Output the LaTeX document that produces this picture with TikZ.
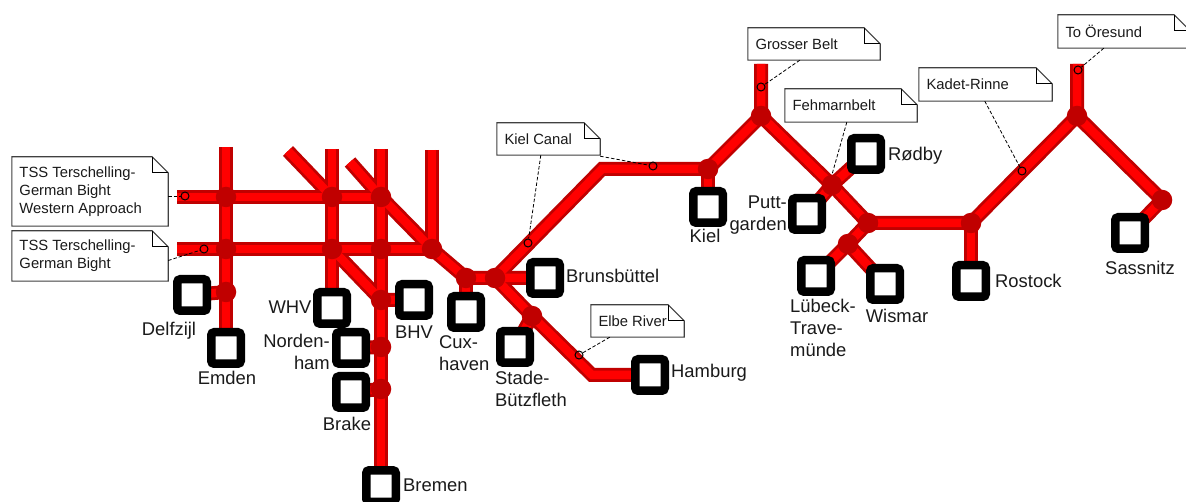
\documentclass[tikz,border=0pt]{standalone}
\usepackage{fontspec}
\setmainfont{Liberation Sans}
\pgfdeclarelayer{tracks}
\pgfsetlayers{tracks,main}
\definecolor{trackdark}{HTML}{C00000}
\definecolor{trackred}{HTML}{FF0000}
\definecolor{inktext}{HTML}{1A1A1A}
\tikzset{
  junction/.style={circle,fill=trackdark,draw=none,minimum size=20.5pt,inner sep=0pt},
  station/.style={rectangle,rounded corners=3pt,draw=black,line width=8.5pt,fill=white,minimum width=29.5pt,minimum height=31.5pt,inner sep=0pt},
  place/.style={font=\fontsize{18.4}{22}\selectfont,text=inktext,inner sep=0pt},
  notebase/.style={rectangle,inner xsep=7.5pt,inner ysep=0pt,align=left,font=\fontsize{14.8}{18}\selectfont,text=inktext},
  noteline/.style={draw=black!75,line width=1.1pt,fill=white,line join=miter},
  notefold/.style={draw=black,line width=1.4pt},
  leader/.style={draw=black,line width=0.8pt,dash pattern=on 3.5pt off 2pt},
  probe/.style={circle,draw=black,line width=1pt,fill=none,minimum size=8pt,inner sep=0pt},
  trackouter/.style={draw=trackdark,line width=14pt},
  trackinner/.style={draw=trackred,line width=8.5pt}
}
\newcommand{\notebox}[5]{%
  \node[notebase,minimum width=#3pt,minimum height=#4pt,text width=\dimexpr #3pt-16pt\relax] (#1) at (#2) {\vphantom{}};
  \draw[noteline] (#1.north west) -- ([xshift=-16pt]#1.north east) -- ([yshift=-16pt]#1.north east) -- (#1.south east) -- (#1.south west) -- cycle;
  \draw[notefold] ([xshift=-16pt]#1.north east) -- ([xshift=-16pt,yshift=-16pt]#1.north east) -- ([yshift=-16pt]#1.north east);
  \node[notebase,anchor=west] (#1text) at (#1.west) {#5};
}
\newcommand{\drawtracks}[1]{%
  \begin{scope}[every path/.style={#1}]
    \draw (eWtop) -- (j226a.center) -- (j332a.center) -- (j381a.center);
    \draw (eWbot) -- (j226b.center) -- (j332b.center) -- (j381b.center) -- (j432.center);
    \draw (eN226) -- (j226a.center) -- (j226b.center) -- (jDelf.center) -- (emden.center);
    \draw (jDelf.center) -- (delfzijl.center);
    \draw (eN332) -- (j332a.center) -- (j332b.center) -- (whv.center);
    \draw (eN381) -- (j381a.center) -- (j381b.center) -- (jBhv.center) -- (jNord.center) -- (jBrake.center) -- (bremen.center);
    \draw (eN432) -- (j432.center);
    \draw (eD1) -- (j332a.center);
    \draw (eD2) -- (j381a.center) -- (j432.center) -- (jCux.center) -- (jBrun.center) -- (brunsbuettel.center);
    \draw (jCux.center) -- (cuxhaven.center);
    \draw (j332b.center) -- (jBhv.center) -- (bhv.center);
    \draw (jNord.center) -- (nordenham.center);
    \draw (jBrake.center) -- (brake.center);
    \draw (jBrun.center) -- (jStade.center) -- (bendElbe) -- (hamburg.center);
    \draw (jStade.center) -- (stade.center);
    \draw (jBrun.center) -- (bendKiel) -- (jKiel.center) -- (jBelt.center) -- (eBelt);
    \draw (jKiel.center) -- (kiel.center);
    \draw (jBelt.center) -- (jFehm.center) -- (jEast.center) -- (jRost.center) -- (jOre.center) -- (eOre);
    \draw (roedby.center) -- (jFehm.center) -- (puttgarden.center);
    \draw (jEast.center) -- (jLub.center) -- (luebeck.center);
    \draw (jLub.center) -- (wismar.center);
    \draw (jRost.center) -- (rostock.center);
    \draw (jOre.center) -- (jSass.center) -- (sassnitz.center);
  \end{scope}
}
\begin{document}
\begin{tikzpicture}[x=1pt,y=-1pt]
\clip (0,0) rectangle (1186,502);
% free ends and bends
\coordinate (eWtop) at (177,197);
\coordinate (eWbot) at (177,249);
\coordinate (eN226) at (226,147);
\coordinate (eN332) at (332,149);
\coordinate (eN381) at (381,149);
\coordinate (eN432) at (432,150);
\coordinate (eD1) at (288,151);
\coordinate (eD2) at (350,162);
\coordinate (bendElbe) at (592,375);
\coordinate (bendKiel) at (602,169);
\coordinate (eBelt) at (761,64);
\coordinate (eOre) at (1077,64);
% junctions
\node[junction] (j226a) at (226,197) {};
\node[junction] (j332a) at (332,197) {};
\node[junction] (j381a) at (381,197) {};
\node[junction] (j226b) at (226,249) {};
\node[junction] (j332b) at (332,249) {};
\node[junction] (j381b) at (381,249) {};
\node[junction] (j432) at (432,249) {};
\node[junction] (jDelf) at (226,292) {};
\node[junction] (jBhv) at (381,300) {};
\node[junction] (jNord) at (381,347) {};
\node[junction] (jBrake) at (381,389) {};
\node[junction] (jCux) at (466,278) {};
\node[junction] (jBrun) at (495,278) {};
\node[junction] (jStade) at (532,316) {};
\node[junction] (jKiel) at (708,169) {};
\node[junction] (jBelt) at (761,116) {};
\node[junction] (jFehm) at (832,185) {};
\node[junction] (jEast) at (868,223) {};
\node[junction] (jRost) at (971,223) {};
\node[junction] (jLub) at (848,244) {};
\node[junction] (jOre) at (1077,116) {};
\node[junction] (jSass) at (1162,200) {};
% stations
\node[station] (delfzijl) at (192,295) {};
\node[station] (emden) at (226,348) {};
\node[station] (whv) at (332,308) {};
\node[station] (bhv) at (414,300) {};
\node[station] (nordenham) at (351,348) {};
\node[station] (brake) at (351,392) {};
\node[station] (bremen) at (381,486) {};
\node[station] (cuxhaven) at (466,312) {};
\node[station] (brunsbuettel) at (545,278) {};
\node[station] (stade) at (515,347) {};
\node[station] (hamburg) at (650,375) {};
\node[station] (kiel) at (708,207) {};
\node[station] (roedby) at (866,154) {};
\node[station] (puttgarden) at (807,214) {};
\node[station] (luebeck) at (816,276) {};
\node[station] (wismar) at (885,284) {};
\node[station] (rostock) at (971,281) {};
\node[station] (sassnitz) at (1130,233) {};
% tracks beneath everything
\begin{pgfonlayer}{tracks}
\fill[white] (0,0) rectangle (1186,502);
\drawtracks{trackouter}
\drawtracks{trackinner}
\end{pgfonlayer}
% place names
\node[place,anchor=center] (lDelf) at (169,331) {Delfzijl};
\node[place,anchor=center] (lEmden) at (227,378) {Emden};
\node[place,anchor=center] (lWhv) at (290,307) {WHV};
\node[place,anchor=center] (lBhv) at (414,332) {BHV};
\node[place,anchor=east,align=right] (lNord) at (330,352) {Norden-\\ham};
\node[place,anchor=center] (lBrake) at (347,424) {Brake};
\node[place,anchor=west] (lBrem) at (403,485) {Bremen};
\node[place,anchor=west,align=left] (lCux) at (439,353) {Cux-\\haven};
\node[place,anchor=west] (lBrun) at (566,276) {Brunsbüttel};
\node[place,anchor=west,align=left] (lStade) at (495,389) {Stade-\\Bützfleth};
\node[place,anchor=west] (lHam) at (671,373) {Hamburg};
\node[place,anchor=center] (lKiel) at (705,236) {Kiel};
\node[place,anchor=west] (lRoed) at (888,156) {Rødby};
\node[place,anchor=east,align=right] (lPutt) at (787,215) {Putt-\\garden};
\node[place,anchor=west,align=left] (lLueb) at (790,328) {Lübeck-\\Trave-\\münde};
\node[place,anchor=center] (lWis) at (897,316) {Wismar};
\node[place,anchor=west] (lRost) at (995,281) {Rostock};
\node[place,anchor=center] (lSass) at (1140,268) {Sassnitz};
% notes
\notebox{nTssW}{90,191.5}{156}{69}{TSS Terschelling-\\German Bight\\Western Approach}
\notebox{nTss}{90,256}{156}{50}{TSS Terschelling-\\German Bight}
\notebox{nKiel}{548.5,139}{103}{32}{Kiel Canal}
\notebox{nBelt}{814,44}{132}{32}{Grosser Belt}
\notebox{nFehm}{851,105.5}{132}{33}{Fehmarnbelt}
\notebox{nKadet}{985.5,84.5}{133}{33}{Kadet-Rinne}
\notebox{nElbe}{637.5,321}{93}{32}{Elbe River}
\notebox{nOre}{1124,31.5}{132}{33}{To Öresund}
% probes
\node[probe] (pTssW) at (185,196) {};
\node[probe] (pTss) at (204,249) {};
\node[probe] (pKielA) at (653,166) {};
\node[probe] (pKielB) at (528,243) {};
\node[probe] (pBelt) at (761,87) {};
\node[probe] (pKadet) at (1022,171) {};
\node[probe] (pElbe) at (579,355) {};
\node[probe] (pOre) at (1078,70) {};
% leaders
\draw[leader] ([yshift=-4.5pt]nTssW.east) -- (pTssW);
\draw[leader] ([yshift=-4.5pt]nTss.east) -- (pTss);
\draw[leader] ([yshift=-1pt]nKiel.south east) -- (pKielA);
\draw[leader] ([xshift=44pt]nKiel.south west) -- (pKielB);
\draw[leader] ([xshift=52pt]nBelt.south west) -- (pBelt);
\draw[leader] ([xshift=62pt]nFehm.south west) -- (jFehm.north);
\draw[leader] ([xshift=66pt]nKadet.south west) -- (pKadet);
\draw[leader] ([xshift=19pt]nElbe.south west) -- (pElbe);
\draw[leader] ([xshift=46pt]nOre.south west) -- (pOre);
\end{tikzpicture}
\end{document}
